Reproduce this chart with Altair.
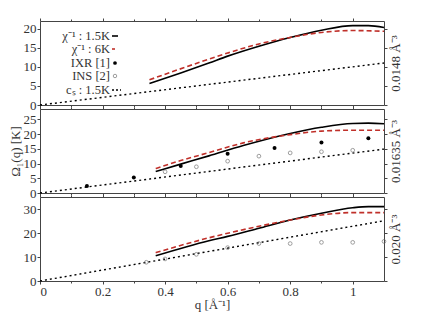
import altair as alt
import pandas as pd

# ---- data ----
# density labels for the three panels
densities = ["0.0148 Å⁻³", "0.01635 Å⁻³", "0.020 Å⁻³"]
y_max = [22, 28.5, 35]
y_ticks = [[0, 5, 10, 15, 20], [0, 5, 10, 15, 20, 25], [0, 10, 20, 30]]

# chi^-1 at 1.5K (black solid)
q_b1 = [0.35, 0.45, 0.54, 0.6, 0.7, 0.8, 0.9, 1.0, 1.05, 1.1]
b1 = [5.6, 8.4, 11.0, 12.8, 15.4, 17.7, 19.6, 20.8, 20.8, 20.3]
q_b2 = [0.37, 0.45, 0.54, 0.65, 0.8, 0.9, 1.0, 1.05, 1.1]
b2 = [7.3, 9.8, 12.6, 16.1, 20.2, 22.3, 23.6, 23.7, 23.5]
q_b3 = [0.37, 0.54, 0.6, 0.7, 0.8, 0.9, 1.0, 1.05, 1.1]
b3 = [10.5, 16.8, 18.6, 22.0, 25.4, 28.2, 30.5, 31.0, 31.0]

# chi^-1 at 6K (red dashed)
q_r1 = [0.35, 0.54, 0.6, 0.7, 0.8, 0.9, 1.0, 1.1]
r1 = [6.6, 12.0, 13.6, 16.0, 17.7, 19.0, 19.5, 19.3]
q_r2 = [0.37, 0.45, 0.54, 0.65, 0.8, 0.9, 1.0, 1.1]
r2 = [8.3, 11.0, 13.7, 17.0, 19.8, 21.0, 21.3, 21.3]
q_r3 = [0.37, 0.54, 0.6, 0.7, 0.8, 0.9, 1.0, 1.1]
r3 = [11.8, 18.0, 19.9, 22.8, 25.4, 27.5, 28.5, 28.5]

# c_s at 1.5K (dotted straight line)
q_cs = [0.0, 1.1]
cs1 = [0.0, 11.0]
cs2 = [0.0, 14.9]
cs3 = [0.0, 25.1]

# IXR [1] (filled), middle panel
q_ixr = [0.15, 0.3, 0.45, 0.6, 0.75, 0.9, 1.05]
ixr = [2.4, 5.3, 9.2, 13.3, 15.3, 17.1, 18.6]

# INS [2] (open circles)
q_ins2 = [0.4, 0.5, 0.6, 0.7, 0.8, 0.9, 1.0]
ins2 = [7.2, 8.9, 10.8, 12.5, 13.6, 14.0, 14.5]
q_ins3 = [0.34, 0.4, 0.5, 0.6, 0.7, 0.8, 0.9, 1.0, 1.1]
ins3 = [7.8, 9.2, 11.1, 13.9, 15.6, 15.6, 16.1, 16.1, 16.5]

x_ticks = [0, 0.2, 0.4, 0.6, 0.8, 1.0]
x_minor = [0.1, 0.3, 0.5, 0.7, 0.9]

FONT = "Liberation Serif"
RED = "#c0302a"
W, H = 344, 84


def df(qs, vs):
    return pd.DataFrame({"q": qs, "v": vs})


def panel(i, black, red, cs, ixr_df=None, ins_df=None, legend=False, bottom=False, ytitle=None):
    xs = alt.Scale(domain=[0, 1.1], nice=False)
    ys = alt.Scale(domain=[0, y_max[i]], nice=False)
    xaxis_bottom = alt.Axis(values=x_ticks, labels=bottom, title="q [Å⁻¹]" if bottom else None,
                            labelExpr="format(datum.value, '~g')", tickSize=3, grid=False,
                            domain=False, labelFontSize=13, titleFontSize=13, labelPadding=1,
                            titlePadding=0)
    xaxis_top = alt.Axis(values=x_ticks, labels=False, title=None, orient="top",
                         tickSize=3, grid=False, domain=False)
    xminor_bottom = alt.Axis(values=x_minor, labels=False, title=None, tickSize=2,
                             grid=False, domain=False)
    xminor_top = alt.Axis(values=x_minor, labels=False, title=None, orient="top", tickSize=2,
                          grid=False, domain=False)
    yleft = alt.Axis(values=y_ticks[i], tickSize=3, grid=False, domain=False,
                     labelFontSize=13, title=ytitle if ytitle else None, titleFontSize=13,
                     labelPadding=1, titlePadding=1)
    yright = alt.Axis(values=y_ticks[i], orient="right", labels=False, tickSize=3, grid=False,
                      domain=False, title=densities[i], titleAngle=270, titleFontSize=13,
                      titleX=11, titleY=H / 2, titleAlign="center", titleBaseline="middle")

    base_black = alt.Chart(black).mark_line(color="black", strokeWidth=1.6, interpolate="monotone").encode(
        x=alt.X("q:Q", scale=xs, axis=xaxis_bottom),
        y=alt.Y("v:Q", scale=ys, axis=yleft))
    base_red = alt.Chart(red).mark_line(color=RED, strokeWidth=1.6, strokeDash=[5, 3],
                                        interpolate="monotone").encode(
        x=alt.X("q:Q", scale=xs, axis=xaxis_top),
        y=alt.Y("v:Q", scale=ys, axis=yright))
    base_cs = alt.Chart(cs).mark_line(color="black", strokeWidth=1.4, strokeDash=[2, 3]).encode(
        x=alt.X("q:Q", scale=xs, axis=xminor_bottom),
        y=alt.Y("v:Q", scale=ys, axis=None))
    ghost = alt.Chart(cs).mark_line(opacity=0).encode(
        x=alt.X("q:Q", scale=xs, axis=xminor_top),
        y=alt.Y("v:Q", scale=ys, axis=None))
    layers = [ghost, base_cs, base_black, base_red]
    if ins_df is not None:
        layers.append(alt.Chart(ins_df).mark_point(shape="circle", size=14, color="#666",
                                                   strokeWidth=0.9, filled=False).encode(
            x=alt.X("q:Q", scale=xs, axis=None), y=alt.Y("v:Q", scale=ys, axis=None)))
    if ixr_df is not None:
        layers.append(alt.Chart(ixr_df).mark_point(shape="circle", size=16, color="black",
                                                   filled=True, opacity=1).encode(
            x=alt.X("q:Q", scale=xs, axis=None), y=alt.Y("v:Q", scale=ys, axis=None)))
    if legend:
        one = pd.DataFrame({"a": [0]})
        labels = ["χ⁻¹ : 1.5K", "χ⁻¹ : 6K", "IXR [1]", "INS [2]", "cₛ : 1.5K"]
        ys_px = [15, 28, 42, 55, 69]
        for lab, yp in zip(labels, ys_px):
            layers.append(alt.Chart(one).mark_text(text=lab, align="right", baseline="middle",
                                                    font=FONT, fontSize=12.5, color="#333").encode(
                x=alt.value(70), y=alt.value(yp)))
        layers.append(alt.Chart(one).mark_rule(color="black", strokeWidth=1.6).encode(
            x=alt.value(72), x2=alt.value(78), y=alt.value(15)))
        layers.append(alt.Chart(one).mark_rule(color=RED, strokeWidth=1.6).encode(
            x=alt.value(72), x2=alt.value(75), y=alt.value(28)))
        layers.append(alt.Chart(one).mark_point(shape="circle", size=14, color="black", filled=True,
                                                opacity=1).encode(x=alt.value(75), y=alt.value(42)))
        layers.append(alt.Chart(one).mark_point(shape="circle", size=12, color="#666",
                                                strokeWidth=0.9).encode(x=alt.value(75), y=alt.value(55)))
        layers.append(alt.Chart(one).mark_rule(color="black", strokeWidth=1.4, strokeDash=[2, 2]).encode(
            x=alt.value(72), x2=alt.value(81), y=alt.value(69)))
    return alt.layer(*layers).resolve_axis(x="independent", y="independent").properties(width=W, height=H)


p1 = panel(0, df(q_b1, b1), df(q_r1, r1), df(q_cs, cs1), legend=True)
p2 = panel(1, df(q_b2, b2), df(q_r2, r2), df(q_cs, cs2), ixr_df=df(q_ixr, ixr),
           ins_df=df(q_ins2, ins2), ytitle="Ω₁(q) [K]")
p3 = panel(2, df(q_b3, b3), df(q_r3, r3), df(q_cs, cs3), ins_df=df(q_ins3, ins3), bottom=True)

chart = alt.vconcat(p1, p2, p3, spacing=4, bounds="flush").properties(
    padding={"left": 0, "top": 9, "right": 0, "bottom": 0}, background="white"
).configure_view(stroke="#444", strokeWidth=1).configure_axis(
    labelFont=FONT, titleFont=FONT, labelColor="#333", titleColor="#333",
    tickColor="#444", titleFontWeight="normal"
)

chart.save("out.html", embed_options={"renderer": "svg", "actions": False})
